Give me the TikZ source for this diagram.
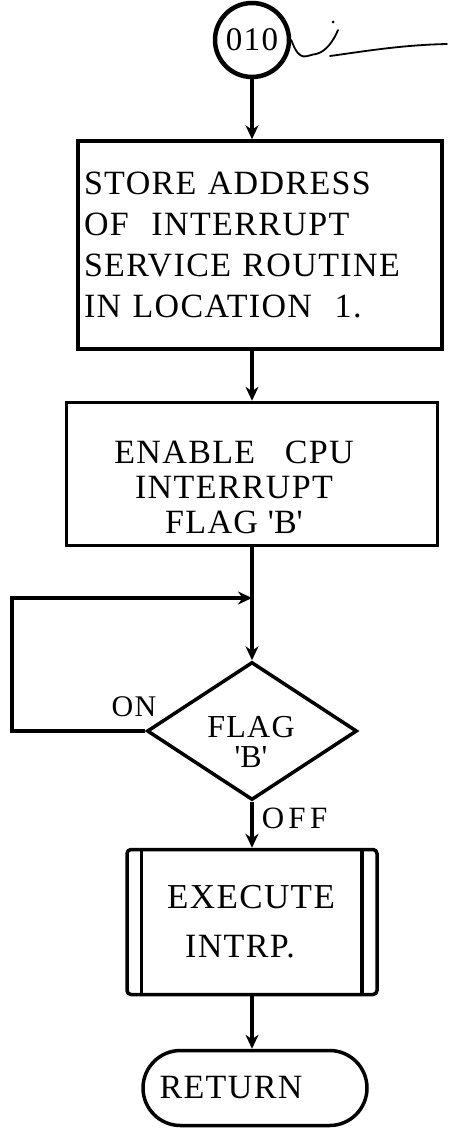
\documentclass[tikz,border=0pt]{standalone}
\usepackage{fontspec}
\setmainfont{Liberation Serif}[LetterSpace=4]
\usetikzlibrary{arrows.meta,shapes.geometric,shapes.misc}
\begin{document}
\begin{tikzpicture}[x=1pt,y=-1pt,
  line width=3.5pt,
  flow/.style={-{Stealth[length=14pt,width=13pt]}},
  txt/.style={font=\fontsize{34}{41}\selectfont, inner sep=0pt},
  procbox/.style={draw, rectangle, inner sep=0pt},
]
\useasboundingbox[fill=white] (0,0) rectangle (449,1134);

% start connector
\node[draw, circle, minimum size=74pt, inner sep=0pt, line width=4.5pt,
      font=\fontsize{33}{33}\selectfont] (start) at (252,40) {010};
\draw[line width=1.8pt, line cap=round]
  (start.east) .. controls (300,64) and (306,55) .. (316,54)
  .. controls (326,52) and (334,40) .. (338,30);
\draw[line width=1.8pt, line cap=round]
  (330,56) .. controls (360,52) and (400,45) .. (447,44);
\fill (333,22) circle (1.5pt);

% store address box
\node[procbox, minimum width=364pt, minimum height=208pt,
      text width=352pt, align=left, font=\fontsize{34}{41}\selectfont] (store) at (260,245)
  {STORE ADDRESS\\OF\ \ INTERRUPT\\SERVICE ROUTINE\\IN LOCATION\ \ 1.};

% enable box
\node[procbox, minimum width=371pt, minimum height=143pt] (enable) at (252,474) {};
\node[txt, align=center, font=\fontsize{34}{35}\selectfont] (enabletext) at (234,487)
  {ENABLE\ \ \ CPU\\INTERRUPT\\FLAG \textquotesingle B\textquotesingle};

% decision
\node[draw, diamond, minimum width=210pt, minimum height=138pt, inner sep=0pt] (flag) at (252,731) {};
\node[txt, align=center, font=\fontsize{32}{30}\selectfont] (flagtext) at (251,742)
  {FLAG\\\textquotesingle B\textquotesingle};
\node[txt, font=\fontsize{30}{30}\selectfont] (on) at (134,707) {ON};
\node[txt, font=\fontsize{31}{31}\selectfont\addfontfeature{LetterSpace=14}, anchor=west] (off) at (260,818) {OFF};

% execute box
\node[procbox, rounded corners=4pt, minimum width=250pt, minimum height=145pt] (exec) at (252,922) {};
\draw ([xshift=16pt]exec.north west) -- ([xshift=16pt]exec.south west);
\draw ([xshift=-17pt]exec.north east) -- ([xshift=-17pt]exec.south east);
\node[txt, align=center, font=\fontsize{35}{35}\selectfont] (exectop) at (251,897) {EXECUTE};
\node[txt, align=center] (execbot) at (240,947) {INTRP.};

% return terminal
\node[draw, rounded rectangle, minimum width=224pt, minimum height=75pt, inner sep=0pt] (ret) at (255,1088) {};
\node[txt] (rettext) at (231,1088) {RETURN};

% connectors
\coordinate (loopTL) at (12,598);
\coordinate (join) at (252,598);
\draw[flow] (start.south) -- (store.north -| start.south);
\draw[flow] (store.south -| enable.north) -- (enable.north);
\draw[flow] (enable.south) -- (flag.north);
\draw[flow] (flag.west) -| (loopTL) -- (join);
\draw[flow] (flag.south) -- (exec.north);
\draw[flow] (exec.south) -- (ret.north -| exec.south);
\end{tikzpicture}
\end{document}
